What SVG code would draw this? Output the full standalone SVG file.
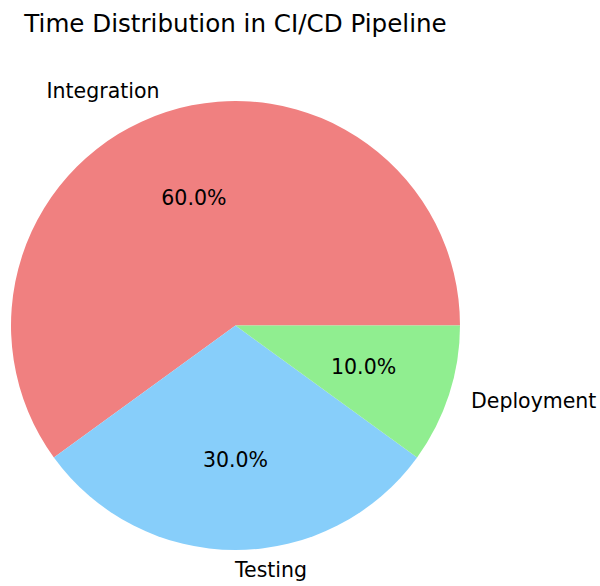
<svg xmlns="http://www.w3.org/2000/svg" width="600" height="586" viewBox="0 0 600 586">
<style>
.t{font-family:"DejaVu Sans",sans-serif;fill:#000}
.lbl{font-size:20.5px}
.pct{font-size:20.5px;text-anchor:middle}
.title{font-size:24.6px;text-anchor:middle}
</style>
<rect width="600" height="586" fill="#fff"/>
<text class="t title" x="235.5" y="32">Time Distribution in CI/CD Pipeline</text>
<g id="wedge-integration">
<path d="M235.5,325.5 L460,325.5 A224.5,224.5 0 1 0 53.87,457.46 Z" fill="#F08080"/>
<text class="t lbl" x="159.5" y="97.7" text-anchor="end">Integration</text>
<text class="t pct" x="193.9" y="204.7">60.0%</text>
</g>
<g id="wedge-testing">
<path d="M235.5,325.5 L53.87,457.46 A224.5,224.5 0 0 0 417.13,457.46 Z" fill="#87CEFA"/>
<text class="t lbl" x="235" y="577.3" text-anchor="start">Testing</text>
<text class="t pct" x="235.5" y="466.7">30.0%</text>
</g>
<g id="wedge-deployment">
<path d="M235.5,325.5 L417.13,457.46 A224.5,224.5 0 0 0 460,325.5 Z" fill="#90EE90"/>
<text class="t lbl" x="471" y="407.7" text-anchor="start">Deployment</text>
<text class="t pct" x="363.6" y="374.2">10.0%</text>
</g>
<g id="connectors"></g>
</svg>
